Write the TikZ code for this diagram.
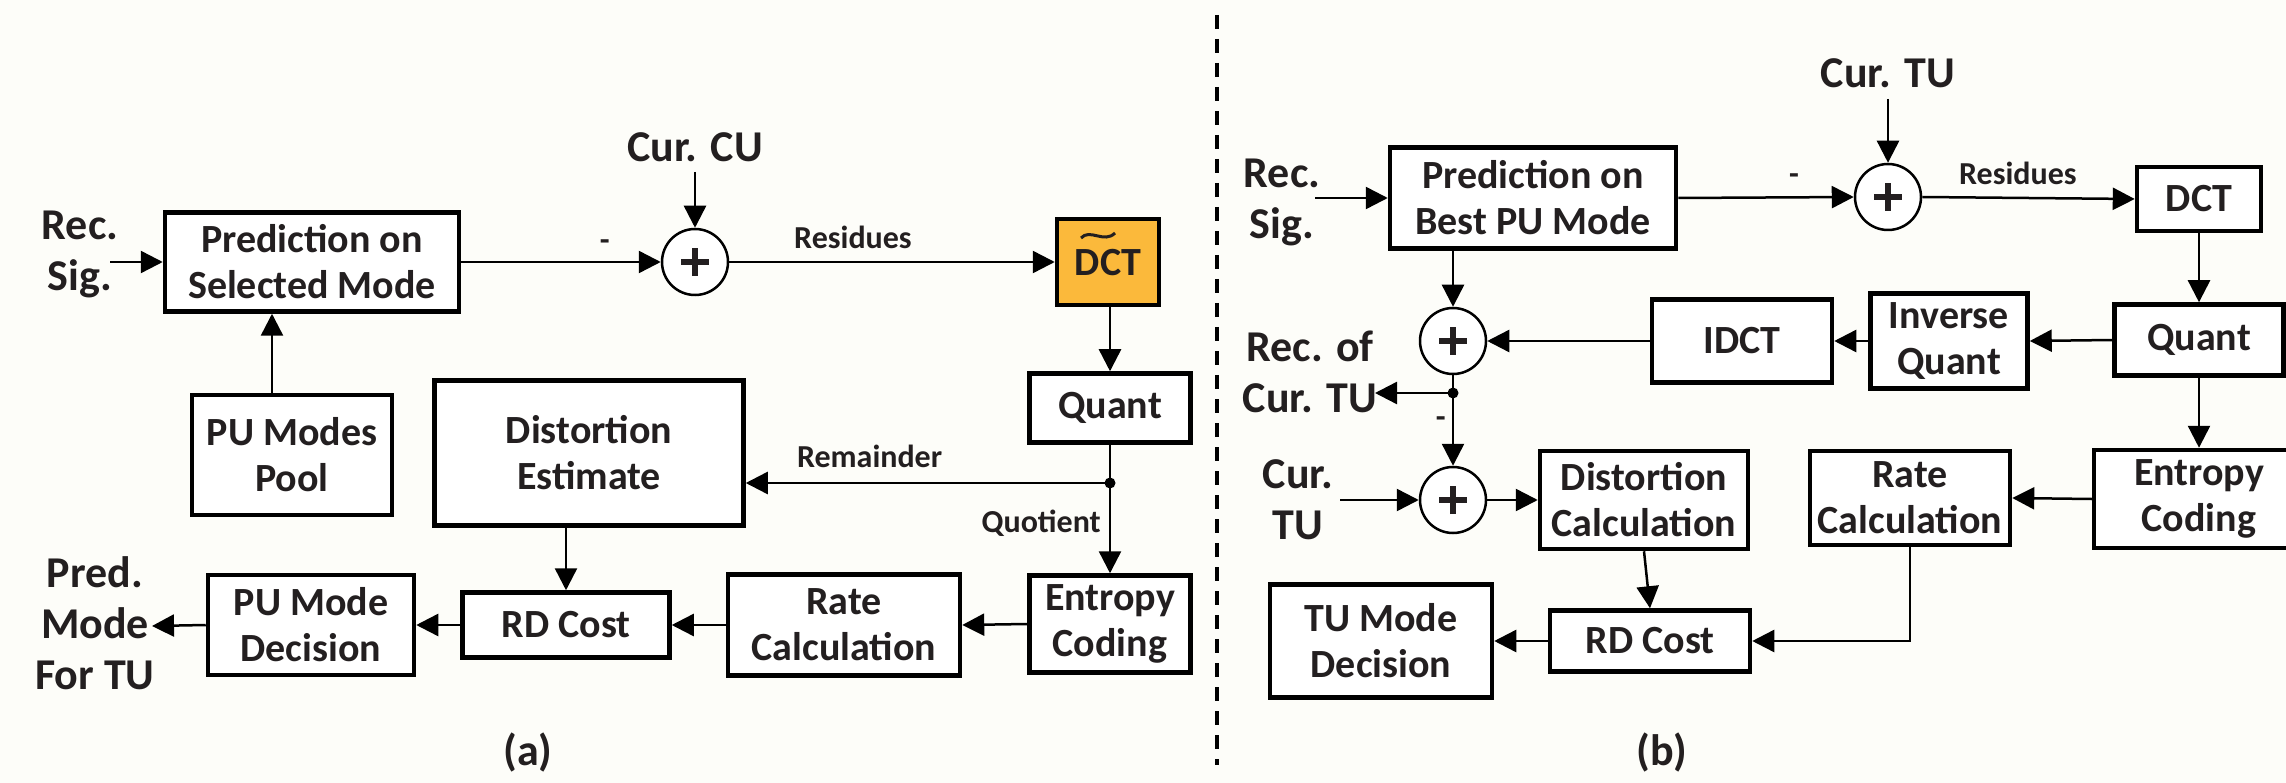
\documentclass[tikz,border=0pt]{standalone}
\usepackage{fontspec}
\setmainfont{Carlito}
\usetikzlibrary{arrows.meta}
\definecolor{bg}{HTML}{FDFDF9}
\definecolor{ink}{HTML}{231F20}
\definecolor{dctorange}{HTML}{FBB93B}
\newcommand{\boxfont}{\fontsize{40}{46}\selectfont\bfseries}
\newcommand{\outfont}{\fontsize{44}{51}\selectfont\bfseries}
\newcommand{\lblfont}{\fontsize{32}{38}\selectfont\bfseries}
\tikzset{
  blk/.style={draw=black, line width=4.5pt, fill=white, align=center, font=\boxfont, text=ink, inner sep=0pt},
  sumc/.style={circle, draw=black, line width=2.5pt, fill=white, minimum size=66pt, inner sep=0pt,
    path picture={
      \draw[line width=5.5pt, ink] ([xshift=-14pt]path picture bounding box.center) -- ([xshift=14pt]path picture bounding box.center);
      \draw[line width=5.5pt, ink] ([yshift=-14pt]path picture bounding box.center) -- ([yshift=14pt]path picture bounding box.center);}},
  conn/.style={line width=2.5pt, -{Triangle[length=22pt,width=22pt]}},
  plain/.style={line width=2.5pt},
  outtxt/.style={align=center, font=\outfont, text=ink, inner sep=0pt},
  lbl/.style={font=\lblfont, text=ink, inner sep=0pt},
  jdot/.style={circle, fill=black, minimum size=11pt, inner sep=0pt},
}
\begin{document}
\begin{tikzpicture}[x=1pt,y=-1pt]
\clip (0,0) rectangle (2286,783);
\fill[bg] (0,0) rectangle (2286,783);

% ---------------- panel (a) ----------------
\node[blk, minimum width=294pt, minimum height=99pt] (predA) at (312,262) {Prediction on\\Selected Mode};
\node[blk, minimum width=200pt, minimum height=120pt] (pool) at (292,455) {PU Modes\\Pool};
\node[blk, minimum width=309pt, minimum height=145pt] (distA) at (589,453) {Distortion\\Estimate};
\node[sumc] (sumA) at (695,262) {};
\node[blk, fill=dctorange, minimum width=102pt, minimum height=86pt, text depth=0pt] (dctA) at (1108,262) {DCT};
\draw[line width=3pt, ink] ([shift={(-27pt,24pt)}]dctA.center) .. controls ([shift={(-18pt,34pt)}]dctA.center) and ([shift={(-4pt,18pt)}]dctA.center) .. ([shift={(7pt,29pt)}]dctA.center);
\node[blk, minimum width=161pt, minimum height=69pt] (quantA) at (1110,408) {Quant};
\node[blk, minimum width=161pt, minimum height=97pt] (entA) at (1110,624) {Entropy\\Coding};
\node[blk, minimum width=232pt, minimum height=101pt] (rateA) at (844,625) {Rate\\Calculation};
\node[blk, minimum width=207pt, minimum height=65pt] (rdA) at (566,625) {RD Cost};
\node[blk, minimum width=206pt, minimum height=100pt] (pumdA) at (311,625) {PU Mode\\Decision};

\node[outtxt] (recsigA) at (80,254) {Rec.\\Sig.};
\node[outtxt] (curcu) at (695,147) {Cur. CU};
\node[outtxt] (predmode) at (95,623) {Pred.\\Mode\\For TU};
\node[outtxt] (capa) at (528,752) {(a)};

\coordinate (recA) at (110,262);
\coordinate (curA) at (695,172);
\coordinate (jA) at (1110,483);
\coordinate (outA) at (152,626);

\draw[conn] (recA) -- (predA.west);
\draw[conn] (predA.east) -- (sumA.west) node[lbl, pos=0.72, above=10pt] (minusA) {-};
\draw[conn] (curA) -- (sumA.north);
\draw[conn] (sumA.east) -- (dctA.west) node[lbl, pos=0.38, above=12pt] (resA) {Residues};
\draw[conn] (dctA.south -| quantA.north) -- (quantA.north);
\draw[plain] (quantA.south) -- (jA);
\node[jdot] (jAdot) at (jA) {};
\draw[conn] (jA) -- (jA -| distA.east) node[lbl, pos=0.66, above=14pt] (remA) {Remainder};
\draw[conn] (jA) -- (entA.north) node[lbl, pos=0.45, left=8pt] (quoA) {Quotient};
\draw[conn] (entA.west) -- (rateA.east);
\draw[conn] (rateA.west) -- (rdA.east);
\draw[conn] (rdA.west) -- (pumdA.east);
\draw[conn] (pumdA.west) -- (outA);
\draw[conn] (rdA.north |- distA.south) -- (rdA.north);
\draw[conn] ([xshift=-20pt]pool.north) -- ([xshift=-20pt]pool.north |- predA.south);

% divider
\coordinate (divtop) at (1217,15);
\coordinate (divbot) at (1217,765);
\draw[line width=4pt, dash pattern=on 14pt off 10pt] (divtop) -- (divbot);

% ---------------- panel (b) ----------------
\node[blk, minimum width=286pt, minimum height=101pt] (predB) at (1533,198) {Prediction on\\Best PU Mode};
\node[sumc] (sumB1) at (1888,197) {};
\node[blk, minimum width=124pt, minimum height=64pt] (dctB) at (2199,199) {DCT};
\node[blk, minimum width=169pt, minimum height=71pt] (quantB) at (2199,340) {Quant};
\node[blk, minimum width=157pt, minimum height=95pt] (iqB) at (1949,341) {Inverse\\Quant};
\node[blk, minimum width=180pt, minimum height=83pt] (idctB) at (1742,341) {IDCT};
\node[sumc] (sumB2) at (1453,341) {};
\node[sumc] (sumB3) at (1453,500) {};
\node[blk, minimum width=208pt, minimum height=98pt] (distB) at (1644,500) {Distortion\\Calculation};
\node[blk, minimum width=200pt, minimum height=94pt] (rateB) at (1910,498) {Rate\\Calculation};
\node[blk, minimum width=210pt, minimum height=98pt] (entB) at (2199,499) {Entropy\\Coding};
\node[blk, minimum width=200pt, minimum height=61pt] (rdB) at (1650,641) {RD Cost};
\node[blk, minimum width=222pt, minimum height=113pt] (tumdB) at (1381,641) {TU Mode\\Decision};

\node[outtxt] (recsigB) at (1282,202) {Rec.\\Sig.};
\node[outtxt] (curtu) at (1888,73) {Cur. TU};
\node[outtxt] (recofB) at (1310,372) {Rec. of\\Cur. TU};
\node[outtxt] (curtuB) at (1298,500) {Cur.\\TU};
\node[outtxt] (capb) at (1662,752) {(b)};

\coordinate (recB) at (1315,198);
\coordinate (curB) at (1888,99);
\coordinate (jB) at (1453,393);
\coordinate (recofout) at (1375,393);
\coordinate (curB2) at (1340,500);

\draw[conn] (recB) -- (predB.west);
\draw[conn] (predB.east) -- (sumB1.west) node[lbl, pos=0.66, above=12pt] (minusB) {-};
\draw[conn] (curB) -- (sumB1.north);
\draw[conn] (sumB1.east) -- (dctB.west) node[lbl, pos=0.45, above=12pt] (resB) {Residues};
\draw[conn] (dctB.south) -- (quantB.north);
\draw[conn] (quantB.west) -- (iqB.east);
\draw[conn] (iqB.west) -- (idctB.east);
\draw[conn] (idctB.west) -- (sumB2.east);
\draw[conn] (sumB2 |- predB.south) -- (sumB2.north);
\draw[plain] (sumB2.south) -- (jB);
\node[jdot] (jBdot) at (jB) {};
\draw[conn] (jB) -- (recofout);
\draw[conn] (jB) -- (sumB3.north) node[lbl, pos=0.4, left=6pt] (minusB2) {-};
\draw[conn] (curB2) -- (sumB3.west);
\draw[conn] (sumB3.east) -- (distB.west);
\draw[conn] (quantB.south) -- (entB.north);
\draw[conn] (entB.west) -- (rateB.east);
\draw[conn] (rateB.south) |- (rdB.east);
\draw[conn] (distB.south) -- (rdB.north);
\draw[conn] (rdB.west) -- (tumdB.east);
\end{tikzpicture}
\end{document}
